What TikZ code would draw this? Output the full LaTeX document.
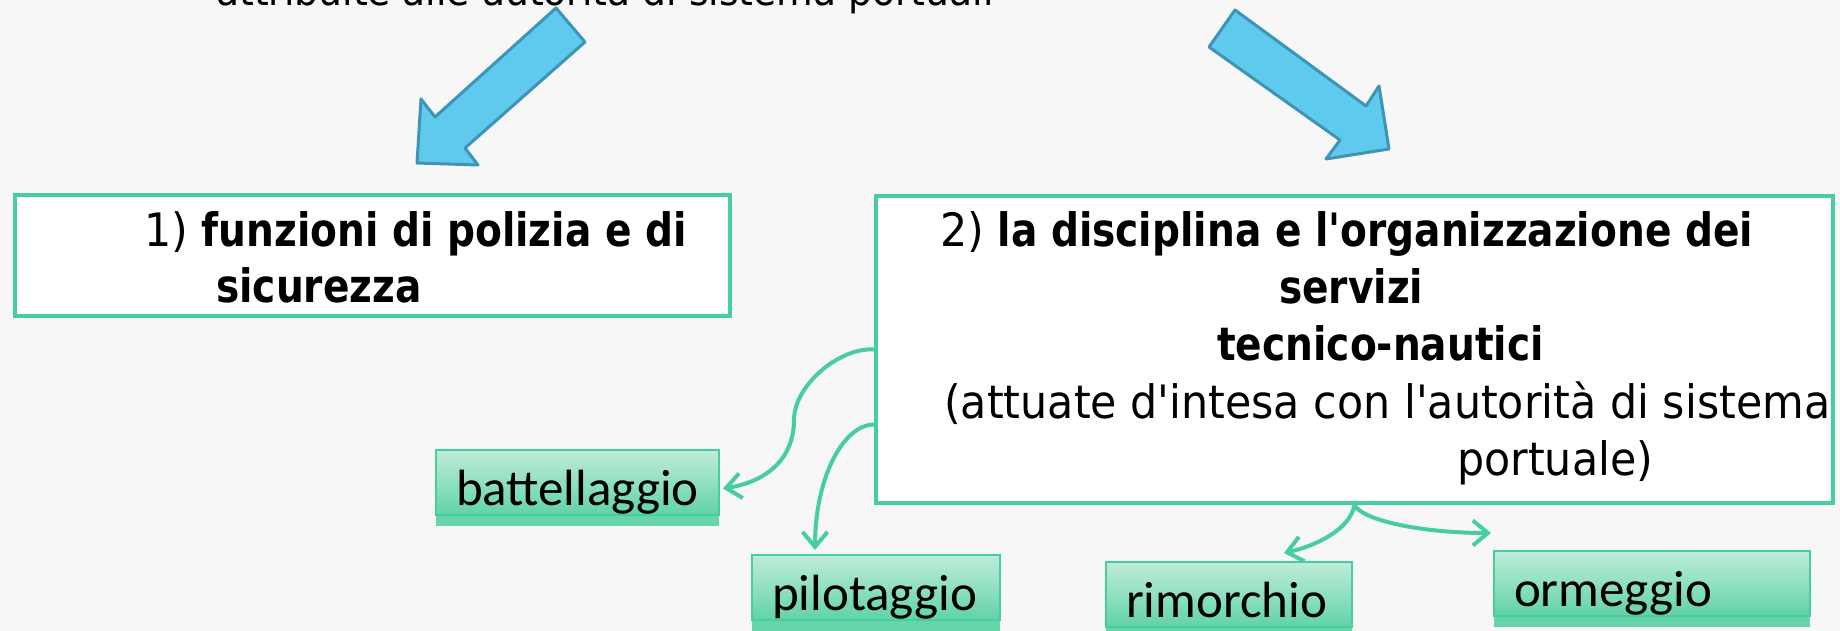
\documentclass[tikz,border=0pt]{standalone}
\usepackage{fontspec}
\usetikzlibrary{arrows.meta,shadows}
\newfontfamily\boxrm[FakeStretch=0.93,Ligatures=TeXOff]{DejaVu Sans}
\newfontfamily\boxbf[FakeStretch=0.85,Ligatures=TeXOff]{DejaVu Sans}
\newfontfamily\labelfont{Carlito}
\newcommand{\bftext}[1]{{\boxbf\bfseries #1}}
\definecolor{pagebg}{RGB}{247,247,247}
\definecolor{boxgreen}{RGB}{71,206,160}
\definecolor{labeltop}{RGB}{192,236,217}
\definecolor{labelbottom}{RGB}{96,211,168}
\definecolor{bandgreen}{RGB}{102,213,170}
\definecolor{arrowblue}{RGB}{96,201,238}
\definecolor{arrowedge}{RGB}{62,148,180}
\tikzstyle{bigbox}=[draw=boxgreen,line width=4pt,fill=white,inner sep=0pt,anchor=north west]
\tikzstyle{boxline}=[anchor=base west,inner sep=0pt,font=\boxrm\fontsize{46}{55}\selectfont]
\tikzstyle{titleline}=[anchor=base west,inner sep=0pt,font=\boxrm\fontsize{40.5}{48}\selectfont]
\tikzstyle{labelbox}=[draw=boxgreen,line width=2pt,top color=labeltop,bottom color=labelbottom,
  drop shadow={shadow xshift=0pt,shadow yshift=-11pt,fill=bandgreen,opacity=1},
  anchor=north west,inner xsep=20pt,inner ysep=0pt,minimum height=65pt,
  text height=45pt,text depth=0pt,align=left,
  font=\labelfont\fontsize{51}{60}\selectfont,
  execute at begin node={\hyphenpenalty=10000\relax}]
\tikzstyle{conn}=[draw=boxgreen,line width=4pt,-{Straight Barb[length=15pt,width=25pt]}]
\tikzstyle{bluearrow}=[fill=arrowblue,draw=arrowedge,line width=3pt,line join=round]
\begin{document}
\begin{tikzpicture}[x=1pt,y=-1pt]
  \useasboundingbox (0,0) rectangle (1840,631);
  \clip (0,0) rectangle (1840,631);
  \fill[pagebg] (0,0) rectangle (1840,631);
  % title line, cut at the top
  \node[titleline] (title) at (216,6) {attribuite alle autorità di sistema portuali};
  % the two block arrows
  \draw[bluearrow] (556,8) -- (585,42) -- (465,148) -- (478,165) -- (417,163)
    -- (421,99) -- (435,117) -- cycle;
  \draw[bluearrow] (1235,10) -- (1209,47) -- (1340,140) -- (1326,159) -- (1389,149)
    -- (1379,86) -- (1366,106) -- cycle;
  % main boxes
  \node[bigbox,minimum width=715pt,minimum height=121pt] (box1) at (13,193) {};
  \node[bigbox,minimum width=957pt,minimum height=307pt] (box2) at (874,194) {};
  \node[boxline] (polizia) at (144,247) {1) \bftext{funzioni di polizia e di}};
  \node[boxline] (sicurezza) at (216,302) {\bftext{sicurezza}};
  \node[boxline] (disciplina) at (940,247) {2) \bftext{la disciplina e l'organizzazione dei}};
  \node[boxline] (servizi) at (1279,303) {\bftext{servizi}};
  \node[boxline] (tecnico) at (1217,360) {\bftext{tecnico-nautici}};
  \node[boxline] (intesa) at (944,418) {(attuate d'intesa con l'autorità di sistema};
  \node[boxline] (portuale) at (1457,475) {portuale)};
  % services
  \node[labelbox,text width=243pt] (batt) at (435,449) {battellaggio};
  \node[labelbox,text width=208pt] (pilo) at (751,554) {pilotaggio};
  \node[labelbox,text width=206pt] (rimo) at (1105,561) {rimorchio};
  \node[labelbox,text width=276pt] (orme) at (1493,550) {ormeggio};
  % connectors
  \draw[conn] (box2.west) .. controls (840,347) and (794,385) .. (794,420)
    .. controls (794,460) and (765,482) .. ([xshift=3pt,yshift=-6pt]batt.east);
  \draw[conn] ([yshift=-75pt]box2.west) .. controls (842,425) and (815,480)
    .. ([xshift=64pt,yshift=4pt]pilo.north west);
  \draw[conn] (box2.south) .. controls (1350,530) and (1315,546)
    .. ([xshift=55pt,yshift=8pt]rimo.north);
  \draw[conn] (box2.south) .. controls (1362,520) and (1420,533)
    .. ([xshift=-2pt,yshift=17pt]orme.north west);
\end{tikzpicture}
\end{document}
